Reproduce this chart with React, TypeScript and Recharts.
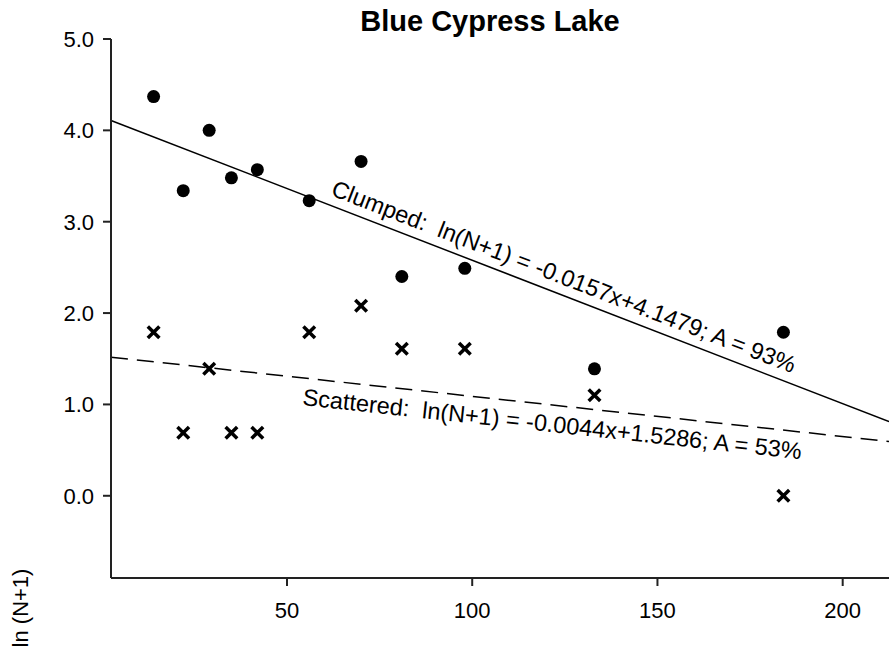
import React from 'react';
import { ScatterChart, Scatter, XAxis, YAxis, ReferenceLine } from 'recharts';

// Distance values (x) shared by both series
const distances = [14, 22, 29, 35, 42, 56, 70, 81, 98, 133, 184];
// ln(N+1) values
const clumpedValues = [4.37, 3.34, 4.0, 3.48, 3.57, 3.23, 3.66, 2.4, 2.49, 1.39, 1.79];
const scatteredValues = [1.79, 0.69, 1.39, 0.69, 0.69, 1.79, 2.08, 1.61, 1.61, 1.1, 0.0];

const xTicks = [50, 100, 150, 200];
const yTicks = [0, 1, 2, 3, 4, 5];
const xDomain = [2.5, 212.5];
const yDomain = [-0.9, 5];

const clumpedSlope = -0.0157;
const clumpedIntercept = 4.1479;
const scatteredSlope = -0.0044;
const scatteredIntercept = 1.5286;

const clumpedData = distances.map((x, i) => ({ x, y: clumpedValues[i] }));
const scatteredData = distances.map((x, i) => ({ x, y: scatteredValues[i] }));

const fitSegment = (m: number, b: number) => [
  { x: xDomain[0], y: m * xDomain[0] + b },
  { x: xDomain[1], y: m * xDomain[1] + b },
];

const FONT = '"Liberation Sans", Arial, sans-serif';

const Dot = (props: any) => {
  const { cx, cy } = props;
  if (cx == null || cy == null) return null;
  return <circle cx={cx} cy={cy} r={6.5} fill="#000" />;
};

const Cross = (props: any) => {
  const { cx, cy } = props;
  if (cx == null || cy == null) return null;
  const s = 5.8;
  return (
    <path
      d={`M${cx - s},${cy - s}L${cx + s},${cy + s}M${cx - s},${cy + s}L${cx + s},${cy - s}`}
      stroke="#000"
      strokeWidth={3.5}
      fill="none"
    />
  );
};

export default function App() {
  const W = 889;
  const H = 646;
  return (
    <div style={{ position: 'absolute', left: 0, top: 0, width: W, height: H, background: '#fff' }}>
      <ScatterChart width={W} height={H} margin={{ top: 39, right: 0, bottom: 0, left: 0 }}>
        <XAxis
          type="number"
          dataKey="x"
          domain={xDomain}
          ticks={xTicks}
          allowDataOverflow
          height={68}
          tickSize={8}
          tickMargin={16}
          axisLine={{ stroke: '#222', strokeWidth: 2 }}
          tickLine={{ stroke: '#222', strokeWidth: 2 }}
          tick={{ fontSize: 22, fill: '#000', fontFamily: FONT }}
        />
        <YAxis
          type="number"
          dataKey="y"
          domain={yDomain}
          ticks={yTicks}
          allowDataOverflow
          width={111}
          tickSize={8}
          tickMargin={9}
          tickFormatter={(v: number) => v.toFixed(1)}
          axisLine={{ stroke: '#222', strokeWidth: 2 }}
          tickLine={{ stroke: '#222', strokeWidth: 2 }}
          tick={{ fontSize: 22, fill: '#000', fontFamily: FONT }}
        />
        <ReferenceLine
          segment={fitSegment(clumpedSlope, clumpedIntercept)}
          stroke="#000"
          strokeWidth={1.5}
        />
        <ReferenceLine
          segment={fitSegment(scatteredSlope, scatteredIntercept)}
          stroke="#000"
          strokeWidth={1.5}
          strokeDasharray="17 9"
        />
        <Scatter data={clumpedData} shape={Dot} isAnimationActive={false} />
        <Scatter data={scatteredData} shape={Cross} isAnimationActive={false} />
      </ScatterChart>
      <svg
        width={W}
        height={H}
        style={{ position: 'absolute', left: 0, top: 0, pointerEvents: 'none' }}
      >
        <text x={490} y={31} textAnchor="middle" fontFamily={FONT} fontWeight="bold" fontSize={29} fill="#000">
          Blue Cypress Lake
        </text>
        <text
          x={330}
          y={195}
          transform="rotate(21.1 330 195)"
          fontFamily={FONT}
          fontSize={23.5}
          fill="#000"
          style={{ whiteSpace: 'pre' }}
        >
          {'Clumped:  ln(N+1) = -0.0157x+4.1479; A = 93%'}
        </text>
        <text
          x={302}
          y={405}
          transform="rotate(6.2 302 405)"
          fontFamily={FONT}
          fontSize={23.5}
          fill="#000"
          style={{ whiteSpace: 'pre' }}
        >
          {'Scattered:  ln(N+1) = -0.0044x+1.5286; A = 53%'}
        </text>
        <text
          x={28}
          y={608}
          transform="rotate(-90 28 608)"
          textAnchor="middle"
          fontFamily={FONT}
          fontSize={22}
          fill="#000"
        >
          ln (N+1)
        </text>
      </svg>
    </div>
  );
}
